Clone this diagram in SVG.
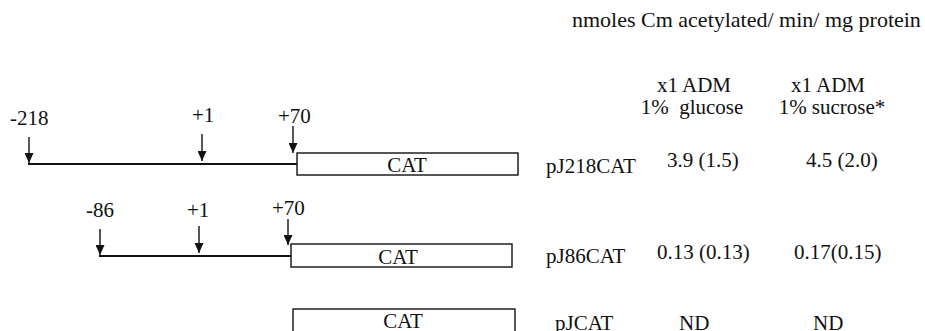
<svg xmlns="http://www.w3.org/2000/svg" width="925" height="331" viewBox="0 0 925 331">
  <style>
    text { font-family: "Liberation Serif", "DejaVu Serif", serif; font-size: 21px; fill: #111; }
    .mid { text-anchor: middle; }
    .gene { fill: #fff; stroke: #111; stroke-width: 1.4; }
    .dna { stroke: #111; stroke-width: 2; fill: none; }
    .tick { stroke: #111; stroke-width: 1.4; fill: none; marker-end: url(#head); }
  </style>
  <defs>
    <!-- solid downward arrowhead, tip sits on the line end -->
    <marker id="head" markerUnits="userSpaceOnUse" markerWidth="10" markerHeight="9" viewBox="0 0 10 9" refX="10" refY="4.5" orient="auto">
      <path d="M0,0 L10,4.5 L0,9 Z" fill="#111"/>
    </marker>
  </defs>
  <rect width="925" height="331" fill="#fff"/>

  <!-- assay table heading -->
  <g id="heading">
    <text x="572" y="27" style="font-size:22px">nmoles Cm acetylated/ min/ mg protein</text>
    <text x="694" y="92" class="mid">x1 ADM</text>
    <text x="692" y="114" class="mid" xml:space="preserve">1%  glucose</text>
    <text x="828" y="92" class="mid">x1 ADM</text>
    <text x="832" y="114" class="mid">1% sucrose*</text>
  </g>

  <!-- pJ218CAT construct -->
  <g id="pJ218CAT">
    <rect class="gene" x="297" y="153" width="221" height="22"/>
    <text x="407" y="172" class="mid">CAT</text>
    <text x="10" y="125">-218</text>
    <text x="192" y="122">+1</text>
    <text x="278" y="123">+70</text>
    <text x="546" y="173">pJ218CAT</text>
    <text x="667" y="167">3.9 (1.5)</text>
    <text x="806" y="167">4.5 (2.0)</text>
  </g>

  <!-- pJ86CAT construct -->
  <g id="pJ86CAT">
    <rect class="gene" x="291" y="244" width="221" height="23"/>
    <text x="398" y="264" class="mid">CAT</text>
    <text x="86" y="217">-86</text>
    <text x="187" y="217">+1</text>
    <text x="272" y="215">+70</text>
    <text x="546" y="263">pJ86CAT</text>
    <text x="657" y="259">0.13 (0.13)</text>
    <text x="794" y="259">0.17(0.15)</text>
  </g>

  <!-- pJCAT construct (no promoter) -->
  <g id="pJCAT">
    <rect class="gene" x="293" y="309" width="222" height="26"/>
    <text x="403" y="328" class="mid">CAT</text>
    <text x="555" y="330">pJCAT</text>
    <text x="679" y="330">ND</text>
    <text x="813" y="330">ND</text>
  </g>

  <!-- promoter lines and position arrows -->
  <g id="connectors">
    <line class="dna" x1="28" y1="164" x2="297" y2="164"/>
    <line class="tick" x1="29" y1="137" x2="29" y2="163"/>
    <line class="tick" x1="202" y1="134" x2="202" y2="161"/>
    <line class="tick" x1="293" y1="126" x2="293" y2="153"/>

    <line class="dna" x1="99" y1="256" x2="291" y2="256"/>
    <line class="tick" x1="100" y1="229" x2="100" y2="255"/>
    <line class="tick" x1="199" y1="226" x2="199" y2="253"/>
    <line class="tick" x1="288" y1="219" x2="288" y2="245"/>
  </g>
</svg>
